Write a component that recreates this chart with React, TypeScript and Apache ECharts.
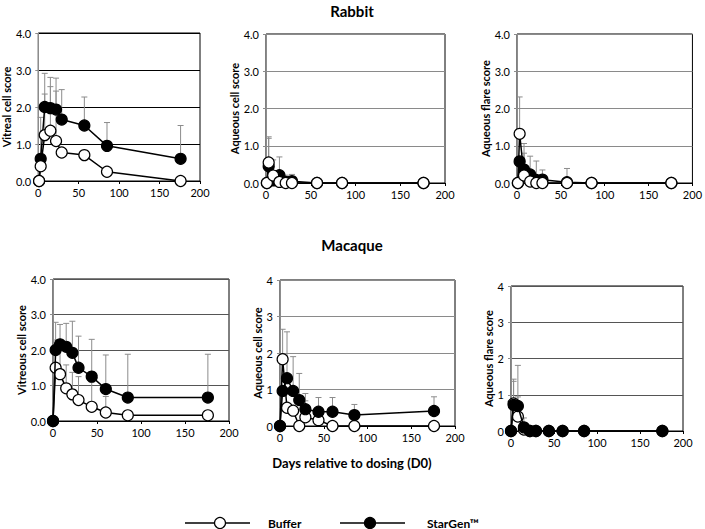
import React, { useEffect, useRef } from "react";
import * as echarts from "echarts";

// ---------- data ----------
const rabbitDays = [1, 3, 8, 15, 22, 29, 57, 85, 176];
const macaqueDays = [0, 3, 8, 15, 22, 29, 44, 60, 85, 176];
const xTicks = [0, 50, 100, 150, 200];

// Rabbit – vitreal cell score
const rabVitBuffer = [0, 0.4, 1.24, 1.36, 1.08, 0.77, 0.7, 0.25, 0];
const rabVitBufferSd = [0, 0, 1.11, 1.19, 1.35, 0, 0, 0, 0];
const rabVitStar = [0, 0.6, 2.0, 1.97, 1.93, 1.66, 1.5, 0.95, 0.6];
const rabVitStarSd = [0, 1.12, 0.91, 0.83, 0.85, 0.81, 0.77, 0.63, 0.9];

// Rabbit – aqueous cell score
const rabAqcBuffer = [0, 0.55, 0.2, 0.03, 0, 0, 0, 0, 0];
const rabAqcBufferSd = [0, 0.69, 0.42, 0, 0, 0, 0, 0, 0];
const rabAqcStar = [0, 0.45, 0.07, 0.21, 0.03, 0.05, 0, 0, 0];
const rabAqcStarSd = [0, 0.75, 0, 0.49, 0.18, 0.18, 0, 0, 0];

// Rabbit – aqueous flare score
const rabAqfBuffer = [0, 1.32, 0.2, 0.04, 0, 0, 0, 0, 0];
const rabAqfBufferSd = [0, 0.99, 0.6, 0, 0, 0, 0, 0, 0];
const rabAqfStar = [0, 0.58, 0.36, 0.23, 0.08, 0.09, 0.02, 0, 0];
const rabAqfStarSd = [0, 0, 0.7, 0.49, 0.51, 0.26, 0.37, 0, 0];

// Macaque – vitreous cell score
const macVitBuffer = [0, 1.5, 1.32, 0.92, 0.75, 0.59, 0.4, 0.24, 0.16, 0.16];
const macVitBufferSd = [0, 0.78, 0.73, 0.66, 0.62, 0.66, 0.7, 0.45, 0, 0];
const macVitStar = [0, 2.0, 2.16, 2.09, 1.92, 1.5, 1.25, 0.9, 0.66, 0.66];
const macVitStarSd = [0, 0.78, 0.56, 0.66, 0.89, 0.89, 1.05, 0.96, 1.22, 1.22];

// Macaque – aqueous cell score
const macAqcBuffer = [0, 1.83, 0.5, 0.42, 0, 0.24, 0.16, 0, 0, 0];
const macAqcBufferSd = [0, 0.82, 0, 0, 0, 0.45, 0, 0, 0, 0];
const macAqcStar = [0, 0.96, 1.31, 0.96, 0.71, 0.46, 0.39, 0.39, 0.3, 0.41];
const macAqcStarSd = [0, 0, 1.27, 0.94, 0.73, 0.43, 0.39, 0.39, 0.29, 0.39];

// Macaque – aqueous flare score
const macAqfBuffer = [0, 0.76, 0.4, 0.04, 0, 0, 0, 0, 0, 0];
const macAqfBufferSd = [0, 0.61, 0.54, 0.32, 0, 0, 0, 0, 0, 0];
const macAqfStar = [0, 0.72, 0.69, 0.1, 0, 0, 0, 0, 0, 0];
const macAqfStarSd = [0, 0.71, 1.12, 0, 0, 0, 0, 0, 0, 0];

const speciesTitles = ["Rabbit", "Macaque"];
const xAxisTitle = "Days relative to dosing (D0)";
const seriesNames = ["Buffer", "StarGen™"];

const panels = [
  { days: rabbitDays, buf: rabVitBuffer, bufSd: rabVitBufferSd, star: rabVitStar, starSd: rabVitStarSd, yName: "Vitreal cell score", decimals: 1 },
  { days: rabbitDays, buf: rabAqcBuffer, bufSd: rabAqcBufferSd, star: rabAqcStar, starSd: rabAqcStarSd, yName: "Aqueous cell score", decimals: 1 },
  { days: rabbitDays, buf: rabAqfBuffer, bufSd: rabAqfBufferSd, star: rabAqfStar, starSd: rabAqfStarSd, yName: "Aqueous flare score", decimals: 1 },
  { days: macaqueDays, buf: macVitBuffer, bufSd: macVitBufferSd, star: macVitStar, starSd: macVitStarSd, yName: "Vitreous cell score", decimals: 1 },
  { days: macaqueDays, buf: macAqcBuffer, bufSd: macAqcBufferSd, star: macAqcStar, starSd: macAqcStarSd, yName: "Aqueous cell score", decimals: 0 },
  { days: macaqueDays, buf: macAqfBuffer, bufSd: macAqfBufferSd, star: macAqfStar, starSd: macAqfStarSd, yName: "Aqueous flare score", decimals: 0 },
];

// ---------- layout / style ----------
const FONT = "Lato, 'Open Sans', sans-serif";
const layout = [
  { left: 35, top: 33, width: 165, height: 148, nameGap: 29, grid: "#000000", whiteTop: true, sym: 11 },
  { left: 266, top: 34, width: 179, height: 149, nameGap: 25, grid: "#8a8a8a", whiteTop: true, sym: 11 },
  { left: 517, top: 34, width: 180, height: 149, nameGap: 32, grid: "#8a8a8a", whiteTop: true, sym: 11 },
  { left: 53, top: 279, width: 176, height: 142, nameGap: 30, grid: "#555555", whiteTop: false, sym: 11 },
  { left: 280, top: 280, width: 175, height: 146, nameGap: 23, grid: "#8a8a8a", whiteTop: false, sym: 11 },
  { left: 511, top: 286, width: 172, height: 145, nameGap: 23, grid: "#555555", whiteTop: false, sym: 11 },
];

function errData(days: number[], vals: number[], sds: number[]) {
  const out: number[][] = [];
  days.forEach((d, i) => {
    if (sds[i] > 0) out.push([d, vals[i], vals[i] + sds[i]]);
  });
  return out;
}

const errRender = (params: any, api: any) => {
  const x = api.value(0);
  const y = api.value(1);
  const t = api.value(2);
  const p0 = api.coord([x, y]);
  const p1 = api.coord([x, t]);
  const st = { stroke: "#8c8c8c", lineWidth: 1 };
  return {
    type: "group",
    children: [
      { type: "line", shape: { x1: p0[0], y1: p0[1], x2: p1[0], y2: p1[1] }, style: st },
      { type: "line", shape: { x1: p1[0] - 3, y1: p1[1], x2: p1[0] + 3, y2: p1[1] }, style: st },
    ],
  };
};

function buildOption() {
  const grid: any[] = [];
  const xAxis: any[] = [];
  const yAxis: any[] = [];
  const series: any[] = [];
  panels.forEach((p, i) => {
    const L = layout[i];
    grid.push({ left: L.left, top: L.top, width: L.width, height: L.height, show: true, borderColor: "#000", borderWidth: 1, backgroundColor: "transparent" });
    xAxis.push({
      gridIndex: i, type: "value", min: xTicks[0], max: xTicks[xTicks.length - 1], interval: 50,
      axisLine: { show: true, lineStyle: { color: "#000", width: 1 } },
      axisTick: { show: true, length: 3, lineStyle: { color: "#000" } },
      axisLabel: { fontFamily: FONT, fontSize: 11, color: "#000", margin: 6 },
      splitLine: { show: false },
    });
    yAxis.push({
      gridIndex: i, type: "value", min: 0, max: 4, interval: 1,
      name: p.yName, nameLocation: "middle", nameGap: L.nameGap,
      nameTextStyle: { fontFamily: FONT, fontSize: 11, fontWeight: "bold", color: "#000", verticalAlign: "middle" },
      axisLine: { show: true, lineStyle: { color: "#8c8c8c", width: 1 } },
      axisTick: { show: true, length: 3, lineStyle: { color: "#8c8c8c" } },
      axisLabel: { fontFamily: FONT, fontSize: 11, color: "#000", margin: 7, formatter: (v: number) => v.toFixed(p.decimals) },
      splitLine: { show: true, lineStyle: { color: L.grid, width: 1 } },
    });
    series.push({
      type: "custom", xAxisIndex: i, yAxisIndex: i, z: 1, renderItem: errRender,
      encode: { x: 0, y: [1, 2] }, data: errData(p.days, p.star, p.starSd), silent: true,
    });
    series.push({
      type: "custom", xAxisIndex: i, yAxisIndex: i, z: 1, renderItem: errRender,
      encode: { x: 0, y: [1, 2] }, data: errData(p.days, p.buf, p.bufSd), silent: true,
    });
    const mk = (name: string, vals: number[], fill: string, z: number) => ({
      type: "line", name, xAxisIndex: i, yAxisIndex: i, z,
      data: p.days.map((d, k) => [d, vals[k]]),
      symbol: "circle", symbolSize: L.sym, showSymbol: true,
      lineStyle: { color: "#000", width: 1.5 },
      itemStyle: { color: fill, borderColor: "#000", borderWidth: 1.2 },
      emphasis: { disabled: true },
    });
    series.push(mk(seriesNames[1], p.star, "#000", L.whiteTop ? 3 : 5));
    series.push(mk(seriesNames[0], p.buf, "#fff", L.whiteTop ? 5 : 3));
  });

  const titleStyle = (text: string, x: number, y: number, size: number) => ({
    type: "text", x, y,
    style: { text, fontFamily: FONT, fontSize: size, fontWeight: "bold", fill: "#000", align: "center", verticalAlign: "middle" },
  });

  const legendY = 523;
  const graphic: any[] = [
    titleStyle(speciesTitles[0], 352, 11, 15),
    titleStyle(speciesTitles[1], 352, 245, 15),
    titleStyle(xAxisTitle, 352, 463, 13),
    { type: "line", shape: { x1: 185, y1: legendY, x2: 250, y2: legendY }, style: { stroke: "#000", lineWidth: 1.5 } },
    { type: "circle", shape: { cx: 220, cy: legendY, r: 5.5 }, style: { fill: "#fff", stroke: "#000", lineWidth: 1.2 } },
    { type: "text", x: 268, y: legendY, style: { text: seriesNames[0], fontFamily: FONT, fontSize: 12, fontWeight: "bold", fill: "#000", align: "left", verticalAlign: "middle" } },
    { type: "line", shape: { x1: 340, y1: legendY, x2: 405, y2: legendY }, style: { stroke: "#000", lineWidth: 1.5 } },
    { type: "circle", shape: { cx: 370, cy: legendY, r: 5.5 }, style: { fill: "#000", stroke: "#000", lineWidth: 1.2 } },
    { type: "text", x: 427, y: legendY, style: { text: seriesNames[1], fontFamily: FONT, fontSize: 12, fontWeight: "bold", fill: "#000", align: "left", verticalAlign: "middle" } },
  ];

  return { animation: false, backgroundColor: "#fff", grid, xAxis, yAxis, series, graphic };
}

export default function App() {
  const ref = useRef<HTMLDivElement>(null);
  useEffect(() => {
    document.body.style.margin = "0";
    if (!ref.current) return;
    const chart = echarts.init(ref.current, null, { renderer: "svg" });
    chart.setOption(buildOption() as any);
    return () => chart.dispose();
  }, []);
  return <div ref={ref} style={{ width: 705, height: 529 }} />;
}
